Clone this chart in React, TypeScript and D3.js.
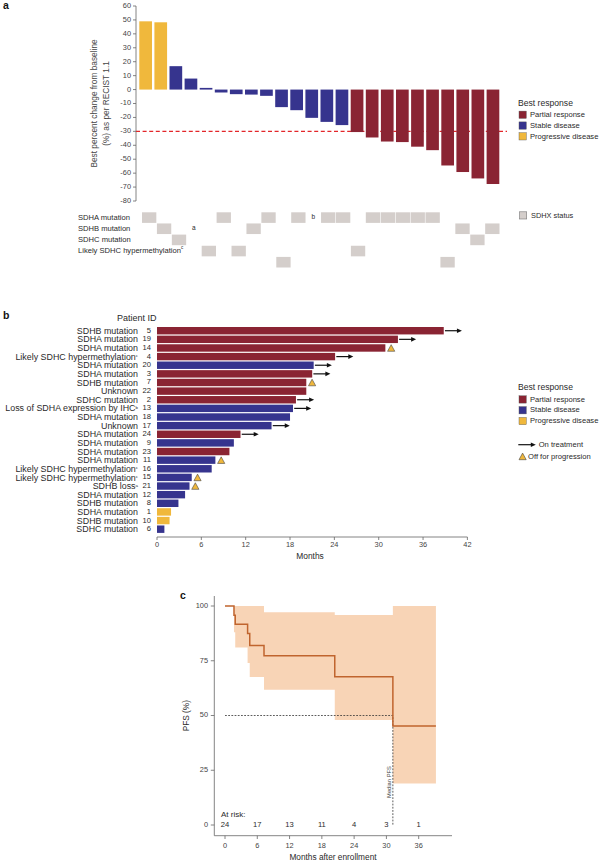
import React from "react";
import * as d3 from "d3";

// ---------- Panel a: waterfall ----------
const waterfallValues = [49, 48.3, 16.8, 7.9, 1.2, -2.1, -3.3, -3.6, -4.5, -12.6, -14.8, -20.3, -23.2, -25.5, -30.5, -34.4, -37.3, -37.7, -41, -43.5, -54.5, -59.2, -63.8, -67.8];
const waterfallResponse = ["PD", "PD", "SD", "SD", "SD", "SD", "SD", "SD", "SD", "SD", "SD", "SD", "SD", "SD", "PR", "PR", "PR", "PR", "PR", "PR", "PR", "PR", "PR", "PR"];
const waterfallTicks = [60, 50, 40, 30, 20, 10, 0, -10, -20, -30, -40, -50, -60, -70, -80];
const sdhxRowLabels = ["SDHA mutation", "SDHB mutation", "SDHC mutation", "Likely SDHC hypermethylation", ""];
// row index of the grey square per patient column; -1 = no square
const sdhxColumnRow = [0, 1, 2, -1, 3, 0, 3, 1, 0, 4, 0, -1, 0, 0, 3, 0, 0, 0, 0, 0, 4, 1, 2, 1];
const sdhxNotes = [
  { col: 3, row: 1, text: "a" },
  { col: 11, row: 0, text: "b" },
];

// ---------- Panel b: swimmer ----------
const swimLabels = ["SDHB mutation", "SDHA mutation", "SDHA mutation", "Likely SDHC hypermethylation", "SDHA mutation", "SDHA mutation", "SDHB mutation", "Unknown", "SDHC mutation", "Loss of SDHA expression by IHC", "SDHA mutation", "Unknown", "SDHA mutation", "SDHA mutation", "SDHA mutation", "SDHA mutation", "Likely SDHC hypermethylation", "Likely SDHC hypermethylation", "SDHB loss", "SDHA mutation", "SDHB mutation", "SDHA mutation", "SDHB mutation", "SDHC mutation"];
const swimSup = ["", "", "", "c", "", "", "", "", "", "b", "", "", "", "", "", "", "c", "c", "a", "", "", "", "", ""];
const swimIds = ["5", "19", "14", "4", "20", "3", "7", "22", "2", "13", "18", "17", "24", "9", "23", "11", "16", "15", "21", "12", "8", "1", "10", "6"];
const swimMonths = [38.8, 32.6, 30.9, 24.1, 21.2, 21.0, 20.2, 20.2, 18.8, 18.4, 18.0, 15.5, 11.3, 10.4, 9.8, 7.9, 7.4, 4.7, 4.4, 3.8, 2.9, 1.9, 1.7, 1.0];
const swimResponse = ["PR", "PR", "PR", "PR", "SD", "PR", "PR", "PR", "PR", "SD", "SD", "SD", "PR", "SD", "PR", "SD", "SD", "SD", "SD", "SD", "SD", "PD", "PD", "SD"];
const swimMarker = ["arrow", "arrow", "tri", "arrow", "arrow", "arrow", "tri", "", "arrow", "arrow", "", "arrow", "arrow", "", "", "tri", "", "tri", "tri", "", "", "", "", ""];
const swimTicks = [0, 6, 12, 18, 24, 30, 36, 42];

// ---------- Panel c: Kaplan-Meier ----------
const kmTimes = [0, 1.67, 1.9, 4.2, 4.6, 7.25, 20.4, 31.2, 39.2];
const kmSurvival = [100, 95.8, 91.7, 87.5, 82, 77.3, 67.7, 45.2, 45.2];
const ciTimes = [1.67, 1.9, 4.2, 4.6, 7.25, 20.4, 31.2, 39.2];
const ciLower = [88, 81, 74, 67.6, 61.8, 47.9, 19, 19];
const ciUpper = [100, 100, 100, 100, 97.1, 95.9, 100, 100];
const medianPfs = 31.2;
const kmXTicks = [0, 6, 12, 18, 24, 30, 36];
const kmYTicks = [0, 25, 50, 75, 100];
const riskCounts = [24, 17, 13, 11, 4, 3, 1];

const FONT = "'Liberation Sans', Arial, Helvetica, sans-serif";
const COLORS: Record<string, string> = { PR: "#8a2433", SD: "#36348e", PD: "#f0b83c" };
const TEXT = "#2a2a2a";
const AXIS = "#666";
const GREY = "#d4cecb";

function LegendResponse({ x, y }: { x: number; y: number }) {
  const items: [string, string][] = [["PR", "Partial response"], ["SD", "Stable disease"], ["PD", "Progressive disease"]];
  return (
    <g>
      <text x={x} y={y} fontSize={8.6} fill={TEXT} dominantBaseline="middle">Best response</text>
      {items.map(([k, t], i) => (
        <g key={k}>
          <rect x={x + 1} y={y + 7.8 + i * 10.8} width={7.3} height={7.3} fill={COLORS[k]} stroke="#555" strokeWidth={0.4} />
          <text x={x + 12} y={y + 11.6 + i * 10.8} fontSize={7.6} fill={TEXT} dominantBaseline="middle">{t}</text>
        </g>
      ))}
    </g>
  );
}

export default function App() {
  // Panel a scales
  const ax = d3.scaleBand<number>().domain(d3.range(24)).range([139.3, 499.3]).paddingInner(0.16).paddingOuter(0);
  const ay = d3.scaleLinear().domain([-80, 60]).range([201, 6]);
  const gx = d3.scaleBand<number>().domain(d3.range(24)).range([142, 499.5]).paddingInner(0.04).paddingOuter(0);
  const gy = d3.scaleBand<number>().domain(d3.range(5)).range([212.3, 267.5]).paddingInner(0.05);

  // Panel b scales
  const bx = d3.scaleLinear().domain([0, 42]).range([157, 467.4]);
  const by = d3.scaleBand<number>().domain(d3.range(24)).range([326.4, 533.5]).paddingInner(0.14).paddingOuter(0.07);

  // Panel c scales
  const cx = d3.scaleLinear().domain([0, 36]).range([225, 418.7]);
  const cy = d3.scaleLinear().domain([0, 100]).range([825, 606]);

  const kmLine = d3.line<number>().x((_, i) => cx(kmTimes[i])).y((_, i) => cy(kmSurvival[i])).curve(d3.curveStepAfter);
  const ciArea = d3.area<number>().x((_, i) => cx(ciTimes[i])).y0((_, i) => cy(ciLower[i])).y1((_, i) => cy(ciUpper[i])).curve(d3.curveStepAfter);

  const triangle = (cxp: number, cyp: number) => {
    const w = 7.2, h = 6.6;
    return `M${cxp - w / 2},${cyp + h / 2}L${cxp + w / 2},${cyp + h / 2}L${cxp},${cyp - h / 2}Z`;
  };
  const arrow = (x0: number, yy: number, len: number) => (
    <g>
      <line x1={x0} x2={x0 + len - 4} y1={yy} y2={yy} stroke="#111" strokeWidth={1.2} />
      <path d={`M${x0 + len},${yy}L${x0 + len - 5},${yy - 2.3}L${x0 + len - 5},${yy + 2.3}Z`} fill="#111" />
    </g>
  );

  return (
    <svg width={600} height={862} style={{ position: "absolute", left: 0, top: 0, background: "#fff" }} fontFamily={FONT}>
      {/* ================= Panel a ================= */}
      <text x={3} y={9} fontSize={10.5} fontWeight="bold" fill="#111">a</text>
      {/* y axis */}
      <line x1={136} x2={136} y1={ay(60)} y2={ay(-80)} stroke={AXIS} strokeWidth={0.8} />
      {waterfallTicks.map((t) => (
        <g key={t}>
          <line x1={133} x2={136} y1={ay(t)} y2={ay(t)} stroke={AXIS} strokeWidth={0.8} />
          <text x={131} y={ay(t)} fontSize={7.4} fill="#444" textAnchor="end" dominantBaseline="middle">{t}</text>
        </g>
      ))}
      <text transform={`translate(95,${(ay(60) + ay(-80)) / 2}) rotate(-90)`} fontSize={8.3} fill="#444" textAnchor="middle" dominantBaseline="middle">Best percent change from baseline</text>
      <text transform={`translate(106.5,${(ay(60) + ay(-80)) / 2}) rotate(-90)`} fontSize={8.3} fill="#444" textAnchor="middle" dominantBaseline="middle">(%) as per RECIST 1.1</text>
      {/* -30 threshold (behind bars) */}
      <line x1={136} x2={507} y1={ay(-30)} y2={ay(-30)} stroke="#e3262a" strokeWidth={1.2} strokeDasharray="4,2.6" />
      {/* bars */}
      {waterfallValues.map((v, i) => (
        <rect key={i} x={ax(i)} width={ax.bandwidth()} y={v >= 0 ? ay(v) : ay(0)} height={Math.max(1.2, Math.abs(ay(v) - ay(0)))} fill={COLORS[waterfallResponse[i]]} />
      ))}
      <LegendResponse x={518} y={103.3} />

      {/* SDHX grid */}
      {sdhxRowLabels.map((l, r) => (
        <text key={r} x={78} y={(gy(r) as number) + gy.bandwidth() / 2} fontSize={7.6} fill={TEXT} dominantBaseline="middle">
          {l}
          {r === 3 ? <tspan fontSize={4.5} dy={-3}>c</tspan> : null}
        </text>
      ))}
      {sdhxColumnRow.map((r, c) =>
        r >= 0 ? <rect key={c} x={gx(c)} y={gy(r)} width={gx.bandwidth()} height={gy.bandwidth()} fill={GREY} /> : null
      )}
      {sdhxNotes.map((n) => (
        <text key={n.text} x={(gx(n.col) as number) + gx.bandwidth() / 2} y={(gy(n.row) as number) + gy.bandwidth() / 2} fontSize={6.5} fill={TEXT} textAnchor="middle" dominantBaseline="middle">{n.text}</text>
      ))}
      <rect x={519.5} y={211.8} width={7.2} height={7.2} fill={GREY} stroke="#777" strokeWidth={0.6} />
      <text x={531} y={215.6} fontSize={7.4} fill={TEXT} dominantBaseline="middle">SDHX status</text>

      {/* ================= Panel b ================= */}
      <text x={3} y={318.5} fontSize={10.5} fontWeight="bold" fill="#111">b</text>
      <text x={156.5} y={318.5} fontSize={9} fill={TEXT} textAnchor="end" dominantBaseline="middle">Patient ID</text>
      {swimLabels.map((l, i) => {
        const yc = (by(i) as number) + by.bandwidth() / 2;
        return (
          <g key={i}>
            <text x={138} y={yc + 3.1} fontSize={8.9} fill={TEXT} textAnchor="end">
              {l}
              {swimSup[i] ? <tspan fontSize={4.4} dy={-2.6}>{swimSup[i]}</tspan> : null}
            </text>
            <text x={151} y={yc} fontSize={7.6} fill={TEXT} textAnchor="end" dominantBaseline="middle">{swimIds[i]}</text>
            <rect x={bx(0)} y={by(i)} width={bx(swimMonths[i]) - bx(0)} height={by.bandwidth()} fill={COLORS[swimResponse[i]]} />
            {swimMarker[i] === "arrow" ? arrow(bx(swimMonths[i]) + 1.2, yc, 17) : null}
            {swimMarker[i] === "tri" ? <path d={triangle(bx(swimMonths[i]) + 5.8, yc)} fill="#efb73c" stroke="#444" strokeWidth={0.6} /> : null}
          </g>
        );
      })}
      <line x1={bx(0)} x2={bx(42)} y1={537} y2={537} stroke={AXIS} strokeWidth={0.8} />
      {swimTicks.map((t) => (
        <g key={t}>
          <line x1={bx(t)} x2={bx(t)} y1={537} y2={540} stroke={AXIS} strokeWidth={0.8} />
          <text x={bx(t)} y={545.5} fontSize={7.4} fill="#444" textAnchor="middle" dominantBaseline="middle">{t}</text>
        </g>
      ))}
      <text x={310} y={557} fontSize={8.4} fill={TEXT} textAnchor="middle" dominantBaseline="middle">Months</text>
      <LegendResponse x={518} y={388} />
      {arrow(518.3, 444.7, 17.5)}
      <text x={538.7} y={444.9} fontSize={7.6} fill={TEXT} dominantBaseline="middle">On treatment</text>
      <path d={triangle(522.6, 456.4)} fill="#efb73c" stroke="#444" strokeWidth={0.6} />
      <text x={528} y={456.8} fontSize={7.6} fill={TEXT} dominantBaseline="middle">Off for progression</text>

      {/* ================= Panel c ================= */}
      <text x={180} y={598.5} fontSize={10.5} fontWeight="bold" fill="#111">c</text>
      <path d={ciArea(ciTimes) || ""} fill="#f7cfae" opacity={0.9} />
      <path d={`M${cx(0)},${cy(50)}L${cx(medianPfs)},${cy(50)}L${cx(medianPfs)},${cy(0)}`} fill="none" stroke="#333" strokeWidth={0.8} strokeDasharray="1.8,1.4" />
      <path d={kmLine(kmTimes) || ""} fill="none" stroke="#c0642e" strokeWidth={1.5} />
      <text transform={`translate(391,782) rotate(-90)`} fontSize={5.8} fill="#444" textAnchor="middle">Median PFS</text>
      {/* axes */}
      <line x1={214.3} x2={214.3} y1={596} y2={835.7} stroke={AXIS} strokeWidth={0.8} />
      <line x1={214.3} x2={452} y1={835.7} y2={835.7} stroke={AXIS} strokeWidth={0.8} />
      {kmYTicks.map((t) => (
        <g key={t}>
          <line x1={210.8} x2={214.3} y1={cy(t)} y2={cy(t)} stroke={AXIS} strokeWidth={0.8} />
          <text x={208} y={cy(t)} fontSize={7.4} fill="#444" textAnchor="end" dominantBaseline="middle">{t}</text>
        </g>
      ))}
      {kmXTicks.map((t) => (
        <g key={t}>
          <line x1={cx(t)} x2={cx(t)} y1={835.7} y2={839} stroke={AXIS} strokeWidth={0.8} />
          <text x={cx(t)} y={846.3} fontSize={7.4} fill="#444" textAnchor="middle" dominantBaseline="middle">{t}</text>
        </g>
      ))}
      <text x={333} y={857.8} fontSize={8.3} fill={TEXT} textAnchor="middle" dominantBaseline="middle">Months after enrollment</text>
      <text transform={`translate(187,715.7) rotate(-90)`} fontSize={8.3} fill={TEXT} textAnchor="middle" dominantBaseline="middle">PFS (%)</text>
      <text x={221} y={814.5} fontSize={8} fill={TEXT} dominantBaseline="middle">At risk:</text>
      {riskCounts.map((n, i) => (
        <text key={i} x={cx(kmXTicks[i])} y={824.5} fontSize={7.6} fill={TEXT} textAnchor="middle" dominantBaseline="middle">{n}</text>
      ))}
    </svg>
  );
}
